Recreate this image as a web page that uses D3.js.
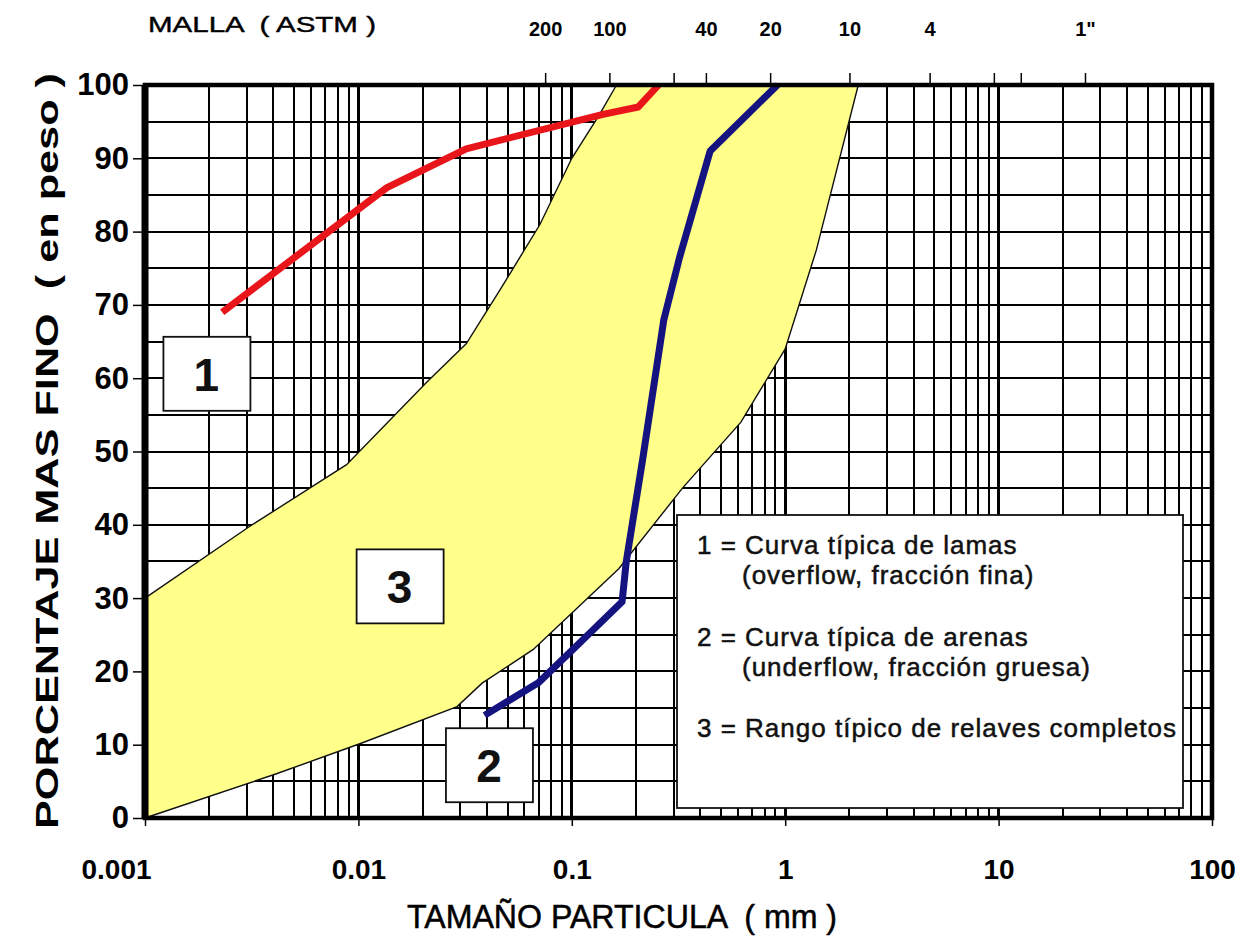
<!DOCTYPE html>
<html>
<head>
<meta charset="utf-8">
<script src="https://cdn.jsdelivr.net/npm/d3@7"></script>
<style>
  body { margin: 0; background: #fff; }
  svg text { font-family: "Liberation Sans", Arial, sans-serif; white-space: pre; }
</style>
</head>
<body>
<div id="chart"></div>
<script>
// curve 1 : lamas (overflow)
var lamasSize = [0.0023, 0.0136, 0.032, 0.14, 0.205, 0.255];
var lamasPct  = [69, 86, 91.3, 96, 97, 100];

// curve 2 : arenas (underflow)
var arenasSize = [0.039, 0.07, 0.11, 0.172, 0.18, 0.215, 0.27, 0.32, 0.445, 0.92];
var arenasPct  = [14, 18.5, 24, 29.5, 35, 49, 68, 76.5, 91, 100];

// zone 3 : relaves completos (fine limit and coarse limit)
var finoSize   = [0.001, 0.0031, 0.0088, 0.021, 0.032, 0.046, 0.071, 0.10, 0.135, 0.162];
var finoPct    = [30, 39.8, 48.2, 59.5, 64.7, 72, 81, 90, 96, 100];
var gruesoSize = [0.001, 0.0041, 0.0103, 0.029, 0.038, 0.066, 0.166, 0.33, 0.62, 1.0, 1.4, 2.2];
var gruesoPct  = [0, 6, 10.2, 15.2, 18.4, 23, 34, 45, 54, 64, 77.5, 100];

// axes
var xTickValues = [0.001, 0.01, 0.1, 1, 10, 100];
var xTickLabels = ["0.001", "0.01", "0.1", "1", "10", "100"];
var yTickValues = [0, 10, 20, 30, 40, 50, 60, 70, 80, 90, 100];
var meshSizes  = [0.075, 0.15, 0.3, 0.425, 0.85, 2.0, 4.75, 9.5, 12.7, 25.4];
var meshLabels = ["200", "100", "", "40", "20", "10", "4", "", "", "1\""];

// numbered tags
var tagText = ["1", "3", "2"];
var tagSize = [0.00194, 0.0156, 0.0409];
var tagPct  = [60.6, 31.6, 7.2];

var legendLines = [
  "1 = Curva típica de lamas",
  "(overflow, fracción fina)",
  "2 = Curva típica de arenas",
  "(underflow, fracción gruesa)",
  "3 = Rango típico de relaves completos"
];

var W = 1254, H = 939;
var svg = d3.select("#chart").append("svg")
    .attr("width", W).attr("height", H);

var x = d3.scaleLog().domain([0.001, 100]).range([145, 1212]);
var y = d3.scaleLinear().domain([0, 100]).range([818, 85]);

// grid of the log paper
var grid = svg.append("g").attr("stroke", "#000").attr("shape-rendering", "crispEdges");
grid.selectAll("line.v")
  .data(x.ticks())
  .enter().append("line")
    .attr("x1", function(d) { return x(d); })
    .attr("x2", function(d) { return x(d); })
    .attr("y1", y(100)).attr("y2", y(0))
    .attr("stroke-width", function(d) { return xTickValues.indexOf(d) >= 0 ? 3 : 2; });
grid.selectAll("line.h")
  .data(d3.range(0, 101, 5))
  .enter().append("line")
    .attr("x1", x(0.001)).attr("x2", x(100))
    .attr("y1", function(d) { return y(d); })
    .attr("y2", function(d) { return y(d); })
    .attr("stroke-width", 2);

// zone 3
var pts = function(xs, ys) { return xs.map(function(v, i) { return [x(v), y(ys[i])]; }); };
var line = d3.line();
var finoPts = pts(finoSize, finoPct);
var gruesoPts = pts(gruesoSize, gruesoPct);
svg.append("path")
    .attr("d", line(finoPts.concat(gruesoPts.slice().reverse())) + "Z")
    .attr("fill", "#ffff8a")
    .attr("stroke", "none");
[finoPts, gruesoPts].forEach(function(p) {
  svg.append("path")
      .attr("d", line(p))
      .attr("fill", "none")
      .attr("stroke", "#111")
      .attr("stroke-width", 1.4);
});

// curves 1 and 2
svg.append("path")
    .attr("d", line(pts(lamasSize, lamasPct)))
    .attr("fill", "none")
    .attr("stroke", "#e8161b")
    .attr("stroke-width", 7)
    .attr("stroke-linejoin", "round");
svg.append("path")
    .attr("d", line(pts(arenasSize, arenasPct)))
    .attr("fill", "none")
    .attr("stroke", "#14137f")
    .attr("stroke-width", 7)
    .attr("stroke-linejoin", "round");

// tags 1, 2, 3
var tags = svg.selectAll("g.tag")
  .data(tagText)
  .enter().append("g")
    .attr("transform", function(d, i) { return "translate(" + x(tagSize[i]) + "," + y(tagPct[i]) + ")"; });
tags.append("rect")
    .attr("x", -43).attr("y", -37).attr("width", 87).attr("height", 74)
    .attr("fill", "#fff").attr("stroke", "#111").attr("stroke-width", 1.8);
tags.append("text")
    .attr("text-anchor", "middle")
    .attr("y", 17)
    .attr("font-size", 46)
    .attr("font-weight", "bold")
    .attr("fill", "#111")
    .text(function(d) { return d; });

// legend box
svg.append("rect")
    .attr("x", 677).attr("y", 515).attr("width", 506).attr("height", 293)
    .attr("fill", "#fff").attr("stroke", "#111").attr("stroke-width", 1.8);
var legendY = [554, 584, 646, 676, 737];
svg.selectAll("text.leg")
  .data(legendLines)
  .enter().append("text")
    .attr("x", function(d) { return d.charAt(0) == "(" ? 742 : 697; })
    .attr("y", function(d, i) { return legendY[i]; })
    .attr("font-size", 26)
    .attr("letter-spacing", 1)
    .attr("fill", "#111")
    .attr("stroke", "#111")
    .attr("stroke-width", 0.5)
    .text(function(d) { return d; });

// frame
svg.append("rect")
    .attr("x", x(0.001)).attr("y", y(100))
    .attr("width", x(100) - x(0.001)).attr("height", y(0) - y(100))
    .attr("fill", "none").attr("stroke", "#000").attr("stroke-width", 4.5);
svg.append("line")
    .attr("x1", x(0.001)).attr("x2", x(0.001))
    .attr("y1", y(100)).attr("y2", y(0))
    .attr("stroke", "#000").attr("stroke-width", 7);

// axes
var yAxis = svg.append("g")
    .attr("transform", "translate(" + x(0.001) + ",0)")
    .call(d3.axisLeft(y).tickValues(yTickValues).tickSize(12).tickPadding(4));
yAxis.select(".domain").remove();
yAxis.attr("font-size", 31).attr("font-family", "'Liberation Sans', Arial, sans-serif")
    .attr("font-weight", "bold");
yAxis.selectAll("line").attr("stroke-width", 1.5);

var xAxis = svg.append("g")
    .attr("transform", "translate(0," + y(0) + ")")
    .call(d3.axisBottom(x).tickValues(xTickValues).tickSize(8).tickPadding(33)
      .tickFormat(function(d, i) { return xTickLabels[i]; }));
xAxis.select(".domain").remove();
xAxis.attr("font-size", 28).attr("font-family", "'Liberation Sans', Arial, sans-serif")
    .attr("font-weight", "bold");
xAxis.selectAll("line").attr("stroke-width", 1.5);
xAxis.selectAll("text").attr("dx", function(d, i) { return i == 0 ? -29 : 0; });

var meshAxis = svg.append("g")
    .attr("transform", "translate(0," + y(100) + ")")
    .call(d3.axisTop(x).tickValues(meshSizes).tickSize(12).tickPadding(37)
      .tickFormat(function(d, i) { return meshLabels[i]; }));
meshAxis.select(".domain").remove();
meshAxis.attr("font-size", 20).attr("font-family", "'Liberation Sans Narrow', 'Liberation Sans', Arial, sans-serif")
    .attr("font-weight", "bold");
meshAxis.selectAll("line").attr("stroke-width", 1.5);

// titles
svg.append("text")
    .attr("x", 148).attr("y", 32)
    .attr("font-size", 22)
    .attr("font-family", "'Liberation Sans Narrow', 'Liberation Sans', Arial, sans-serif")
    .attr("textLength", 228).attr("lengthAdjust", "spacingAndGlyphs")
    .attr("stroke", "#000").attr("stroke-width", 0.4)
    .text("MALLA  ( ASTM )");

svg.append("text")
    .attr("x", 622).attr("y", 928)
    .attr("text-anchor", "middle")
    .attr("font-size", 33)
    .attr("font-family", "'Liberation Sans Narrow', 'Liberation Sans', Arial, sans-serif")
    .attr("textLength", 430).attr("lengthAdjust", "spacingAndGlyphs")
    .attr("stroke", "#000").attr("stroke-width", 0.5)
    .text("TAMAÑO PARTICULA  ( mm )");

svg.append("text")
    .attr("transform", "translate(58,451) rotate(-90)")
    .attr("text-anchor", "middle")
    .attr("font-size", 32)
    .attr("font-weight", "bold")
    .attr("textLength", 756).attr("lengthAdjust", "spacingAndGlyphs")
    .text("PORCENTAJE MAS FINO  ( en peso )");
</script>
</body>
</html>
